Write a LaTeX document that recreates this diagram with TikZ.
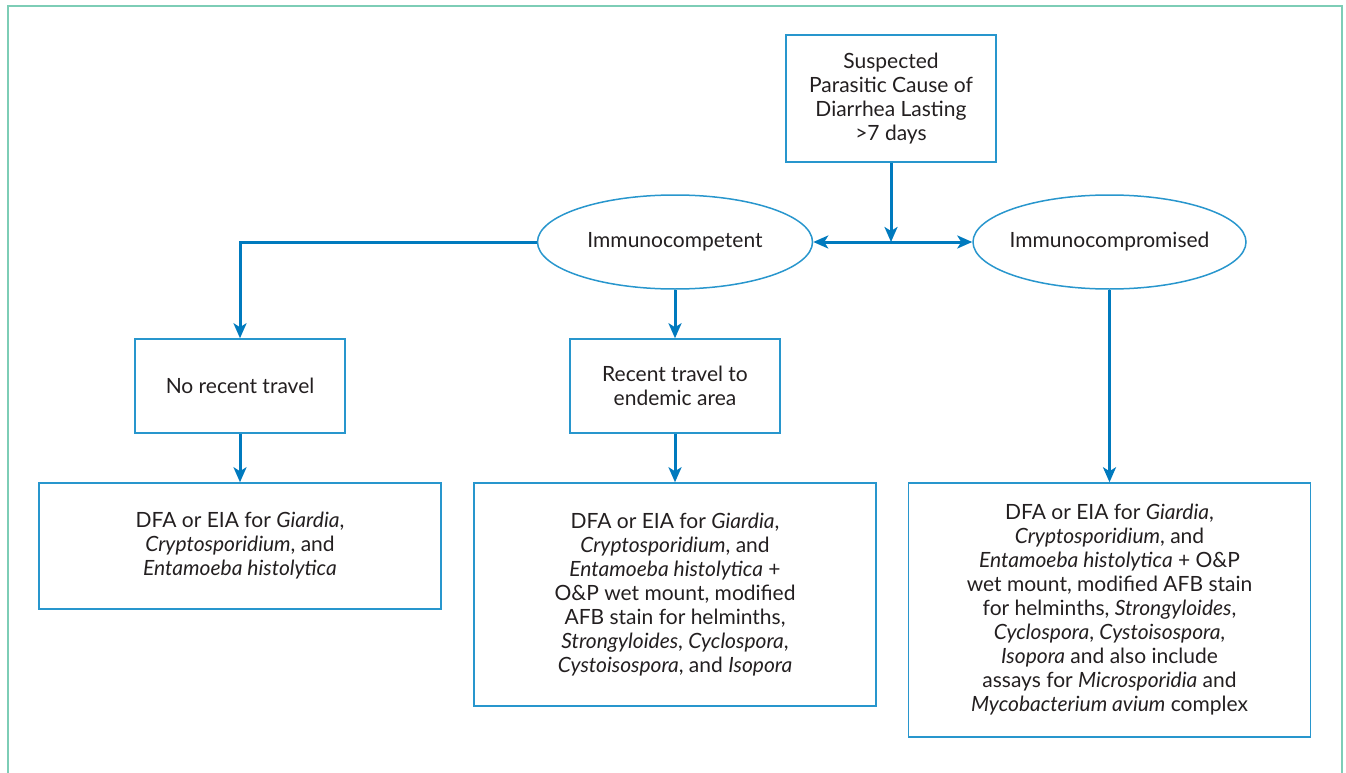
\documentclass[tikz,border=0pt]{standalone}
\usepackage{fontspec}
\setmainfont{Lato}
\usetikzlibrary{arrows.meta,shapes.geometric}
\definecolor{frameC}{RGB}{125,205,182}
\definecolor{lineC}{RGB}{0,122,190}
\definecolor{boxC}{RGB}{40,150,205}
\definecolor{txtC}{RGB}{35,31,32}
\tikzset{
  txt/.style={font=\fontsize{21}{24}\selectfont, text=txtC, align=center, inner sep=0pt},
  box/.style={txt, draw=boxC, line width=1.5pt, rectangle},
  oval/.style={txt, draw=boxC, line width=1.5pt, ellipse, minimum width=275pt, minimum height=94pt},
  conn/.style={draw=lineC, line width=3pt, -{Stealth[length=15pt,width=13pt,inset=4pt]}},
  conn2/.style={draw=lineC, line width=3pt, {Stealth[length=15pt,width=13pt,inset=4pt]}-{Stealth[length=15pt,width=13pt,inset=4pt]}}
}
\begin{document}
\begin{tikzpicture}[x=1pt,y=-1pt]
\useasboundingbox (0,0) rectangle (1346,773);
\draw[frameC, line width=2pt] (8,774) -- (8,6) -- (1342,6) -- (1342,774);
\node[box, minimum width=210pt, minimum height=127pt] (top) at (891,98.5) {Suspected\\Parasitic Cause of\\Diarrhea Lasting\\>7 days};
\node[oval] (ic) at (675,242) {\makebox[0pt]{Immunocompetent}};
\node[oval, minimum width=273pt] (icp) at (1109.5,242) {\makebox[0pt]{Immunocompromised}};
\node[box, minimum width=210pt, minimum height=94pt] (nrt) at (240,386) {No recent travel};
\node[box, minimum width=210pt, minimum height=94pt] (rt) at (675,386) {Recent travel to\\endemic area};
\node[box, minimum width=402pt, minimum height=126pt] (d1) at (240,546) {DFA or EIA for \textit{Giardia},\\\textit{Cryptosporidium}, and\\\textit{Entamoeba histolytica}};
\node[box, minimum width=402pt, minimum height=223pt] (d2) at (675,594.5) {DFA or EIA for \textit{Giardia},\\\textit{Cryptosporidium}, and\\\textit{Entamoeba histolytica} +\\O\&P wet mount, modified\\AFB stain for helminths,\\\textit{Strongyloides}, \textit{Cyclospora},\\\textit{Cystoisospora}, and \textit{Isopora}};
\node[box, minimum width=402pt, minimum height=254pt] (d3) at (1109.5,610) {DFA or EIA for \textit{Giardia},\\\textit{Cryptosporidium}, and\\\textit{Entamoeba histolytica} + O\&P\\wet mount, modified AFB stain\\for helminths, \textit{Strongyloides},\\\textit{Cyclospora}, \textit{Cystoisospora},\\\textit{Isopora} and also include\\assays for \textit{Microsporidia} and\\\textit{Mycobacterium avium} complex};
\coordinate (j) at (top.south |- ic.east);
\draw[conn2] (ic.east) -- (icp.west);
\draw[conn] (top.south) -- (j);
\draw[conn] (ic.west) -| (nrt.north);
\draw[conn] (ic.south) -- (rt.north);
\draw[conn] (icp.south) -- (d3.north);
\draw[conn] (nrt.south) -- (d1.north);
\draw[conn] (rt.south) -- (d2.north);
\end{tikzpicture}
\end{document}
